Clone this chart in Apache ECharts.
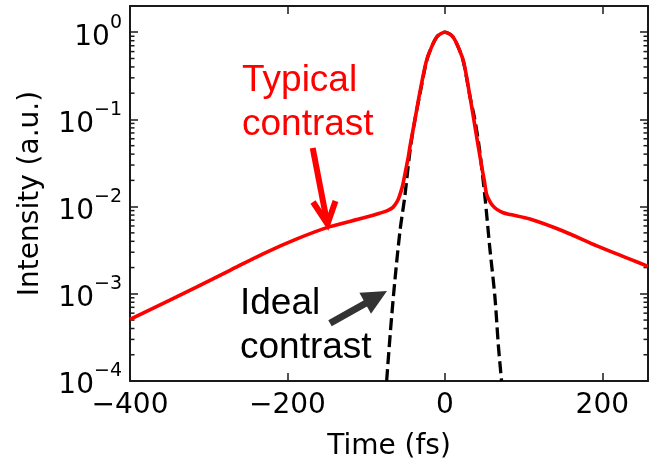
<!DOCTYPE html>
<html><head><meta charset="utf-8">
<script src="https://cdn.jsdelivr.net/npm/echarts@6/dist/echarts.min.js"></script>
<style>html,body{margin:0;padding:0;background:#fff}#c{width:651px;height:466px}</style>
</head><body><div id="c"></div>
<script>
// ---- data ----
const typicalTime = [-400, -350, -315, -273, -231, -188, -146, -104, -83, -73, -66, -60, -57, -54, -51, -47, -44, -38, -32, -24, -19, -10, 0, 10, 19, 24, 32, 40, 47, 50, 53, 57, 61, 66, 74, 83, 108, 150, 193, 235, 258];
const typicalIntensity = [5.1e-4, 8.4e-4, 1.2e-3, 1.86e-3, 2.88e-3, 4.27e-3, 5.9e-3, 7.4e-3, 8.4e-3, 9.0e-3, 9.8e-3, 1.17e-2, 1.38e-2, 1.7e-2, 2.3e-2, 3.5e-2, 5.1e-2, 0.1, 0.2, 0.45, 0.61, 0.89, 1.0, 0.89, 0.61, 0.45, 0.18, 0.066, 0.028, 0.02, 0.0138, 0.0115, 0.0102, 0.0093, 0.0085, 0.0081, 0.0072, 0.00525, 0.00355, 0.0025, 0.00206];
const idealTime = [-74, -69, -63.5, -57, -51, -44, -38, -32, -24, -19, -10, 0, 10, 19, 24, 32, 38, 44, 51, 57, 63.5, 68, 72];
const idealIntensity = [1e-4, 3.9e-4, 1.43e-3, 5.3e-3, 0.0129, 0.046, 0.1, 0.19, 0.44, 0.61, 0.89, 1.0, 0.89, 0.61, 0.44, 0.18, 0.1, 0.045, 0.0126, 3.4e-3, 9.3e-4, 2.5e-4, 1e-4];
const xTickLabels = [-400, -200, 0, 200];
const yMinorTicks = [2e-4,3e-4,4e-4,5e-4,6e-4,7e-4,8e-4,9e-4,2e-3,3e-3,4e-3,5e-3,6e-3,7e-3,8e-3,9e-3,2e-2,3e-2,4e-2,5e-2,6e-2,7e-2,8e-2,9e-2,0.2,0.3,0.4,0.5,0.6,0.7,0.8,0.9];
const xMin = -400, xMax = 258, yMin = 1e-4, yMax = 2;

const chart = echarts.init(document.getElementById('c'));
const FONT = 'DejaVu Sans';
const AX = '#1a1a1a';
const zip = (a, b) => a.map((v, i) => [v, b[i]]);

function yLabel(v) {
  const e = Math.log10(v), r = Math.round(e);
  if (Math.abs(e - r) > 1e-6) return '';
  return '{b|10}{s|' + String(r).replace('-', '\u2212') + '}';
}
function xLabel(v) {
  return xTickLabels.indexOf(v) >= 0 ? String(v).replace('-', '\u2212') : '';
}
const axisLine = { show: true, onZero: false, lineStyle: { color: AX, width: 2 } };
const axisTick = { show: true, inside: true, length: 8, lineStyle: { color: AX, width: 1.5 } };

chart.setOption({
  animation: false,
  backgroundColor: '#fff',
  grid: { left: 130, right: 3, top: 6, bottom: 81 },
  xAxis: [{
    type: 'value', min: xMin, max: xMax, interval: 200, position: 'bottom',
    axisLine, axisTick, splitLine: { show: false },
    axisLabel: { formatter: xLabel, fontFamily: FONT, fontSize: 28, color: '#000', margin: 11, showMaxLabel: false },
    name: 'Time (fs)', nameLocation: 'middle', nameGap: 52,
    nameTextStyle: { fontFamily: FONT, fontSize: 28, color: '#000' }
  }, {
    type: 'value', min: xMin, max: xMax, interval: 200, position: 'top',
    axisLine, axisTick, splitLine: { show: false }, axisLabel: { show: false }
  }],
  yAxis: [{
    type: 'log', logBase: 10, min: yMin, max: yMax, position: 'left',
    axisLine, axisTick, splitLine: { show: false }, minorTick: { show: false },
    axisLabel: {
      formatter: yLabel, margin: 8, color: '#000',
      rich: {
        b: { fontFamily: FONT, fontSize: 28, color: '#000', verticalAlign: 'bottom', lineHeight: 38 },
        s: { fontFamily: FONT, fontSize: 19, color: '#000', verticalAlign: 'top', lineHeight: 38 }
      }
    },
    name: 'Intensity (a.u.)', nameLocation: 'middle', nameGap: 85, nameRotate: 90,
    nameTextStyle: { fontFamily: FONT, fontSize: 28, color: '#000' }
  }, {
    type: 'log', logBase: 10, min: yMin, max: yMax, position: 'right',
    axisLine, axisTick, splitLine: { show: false }, axisLabel: { show: false }
  }],
  series: [{
    type: 'custom', xAxisIndex: 0, yAxisIndex: 0, silent: true, clip: false,
    data: yMinorTicks.map(v => [xMin, v]),
    renderItem: function (params, api) {
      const y = api.coord([api.value(0), api.value(1)])[1];
      const cs = params.coordSys;
      const st = { stroke: AX, lineWidth: 1.5 };
      return { type: 'group', children: [
        { type: 'line', shape: { x1: cs.x, y1: y, x2: cs.x + 4.5, y2: y }, style: st },
        { type: 'line', shape: { x1: cs.x + cs.width - 4.5, y1: y, x2: cs.x + cs.width, y2: y }, style: st }
      ]};
    }
  }, {
    name: 'Ideal contrast', type: 'line', data: zip(idealTime, idealIntensity),
    showSymbol: false, smooth: 0.3, z: 2,
    lineStyle: { color: '#000', width: 3.3, type: [12, 5] }
  }, {
    name: 'Typical contrast', type: 'line', data: zip(typicalTime, typicalIntensity),
    showSymbol: false, smooth: 0.3, z: 3,
    lineStyle: { color: '#ff0000', width: 3.6 }
  }],
  graphic: [
    { type: 'text', x: 242, y: 81, z: 10, style: { text: 'Typical', font: '37px "Liberation Sans", Arial, sans-serif', fill: '#ff0000', align: 'left', verticalAlign: 'middle' } },
    { type: 'text', x: 242, y: 125, z: 10, style: { text: 'contrast', font: '37px "Liberation Sans", Arial, sans-serif', fill: '#ff0000', align: 'left', verticalAlign: 'middle' } },
    { type: 'text', x: 240, y: 304, z: 10, style: { text: 'Ideal', font: '37px "Liberation Sans", Arial, sans-serif', fill: '#000', align: 'left', verticalAlign: 'middle' } },
    { type: 'text', x: 240, y: 348, z: 10, style: { text: 'contrast', font: '37px "Liberation Sans", Arial, sans-serif', fill: '#000', align: 'left', verticalAlign: 'middle' } },
    { type: 'line', z: 10, shape: { x1: 312.7, y1: 148, x2: 327, y2: 222 }, style: { stroke: '#ff0000', lineWidth: 6 } },
    { type: 'polyline', z: 10, shape: { points: [[313, 202], [327.5, 224], [335.5, 201]] }, style: { stroke: '#ff0000', lineWidth: 6, fill: null, lineJoin: 'miter' } },
    { type: 'line', z: 10, shape: { x1: 330, y1: 323.3, x2: 367, y2: 302.5 }, style: { stroke: '#333', lineWidth: 7 } },
    { type: 'polygon', z: 10, shape: { points: [[387, 291], [371, 313.7], [359.4, 292.7]] }, style: { fill: '#333' } }
  ]
});
</script>
</body></html>
